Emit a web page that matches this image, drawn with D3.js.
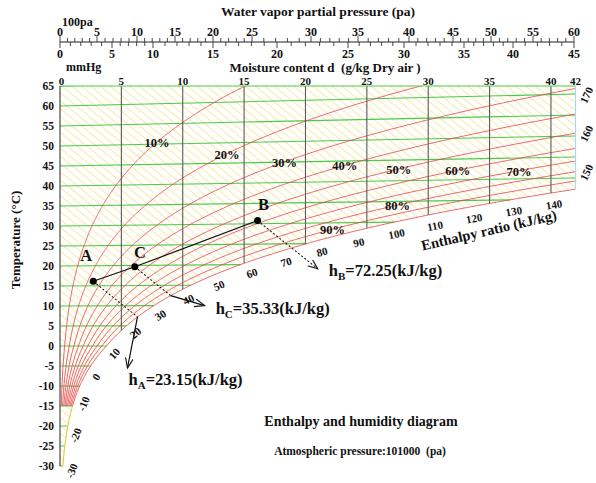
<!DOCTYPE html>
<html><head><meta charset="utf-8">
<script src="https://cdn.jsdelivr.net/npm/d3@7"></script>
<style>
body{margin:0;background:#fff;}
svg text{font-family:"Liberation Serif","Times New Roman",serif;font-weight:bold;fill:#111;}
</style></head><body>
<svg id="chart" width="596" height="483"></svg>
<script>
// ---------- chart values ----------
const tempTicks = d3.range(-30, 66, 5);                 // dry-bulb temperature, °C
const moistureTicks = [0, 5, 10, 15, 20, 25, 30, 35, 40, 42]; // g/kg dry air
const rhLevels = [10, 20, 30, 40, 50, 60, 70, 80, 90, 100]; // relative humidity, %
const rhLabelLevels = [10, 20, 30, 40, 50, 60, 70, 80, 90];
const enthalpyLabels = d3.range(-30, 141, 10);           // kJ/kg, along saturation
const enthalpyEdgeLabels = [150, 160, 170];               // kJ/kg, along right edge
const paTicks = d3.range(0, 61, 5);                       // ×100 Pa
const mmHgTicks = d3.range(0, 46, 5);                     // mmHg
const pointNames = ["A", "C", "B"];
const pointD = [2.71, 6.1, 16.1];                         // g/kg
const pointH = [23.15, 35.33, 72.25];                     // kJ/kg
const pressure = 101000;                                   // Pa

// ---------- psychrometric relations ----------
function psat(t) { // Pa
  return t >= 0 ? 610.94 * Math.exp(17.625 * t / (t + 243.04))
                : 611.15 * Math.exp(22.452 * t / (272.55 + t));
}
function dOf(t, phi) { const pv = phi * psat(t); return 622 * pv / (pressure - pv); }
function hOf(t, d) { return 1.01 * t + d * (2501 + 1.84 * t) / 1000; }
function tOf(h, d) { return (h - 2.501 * d) / (1.01 + 0.00184 * d); }
function solve(f, target, lo, hi) {
  for (let i = 0; i < 80; i++) { const m = (lo + hi) / 2; if (f(m) < target) lo = m; else hi = m; }
  return (lo + hi) / 2;
}
const satTforD = d => solve(t => dOf(t, 1), d, -45, 100);
const satTforH = h => solve(t => hOf(t, dOf(t, 1)), h, -45, 100);
const tForRH = (phi, d) => solve(t => dOf(t, phi), d, -45, 110);

// ---------- scales ----------
const x = d3.scaleLinear().domain([0, 42]).range([60, 575.5]);
const y = d3.scaleLinear().domain([-30, 65]).range([466, 86]);
const TILT = 0.00119; // oblique lift of isotherms with moisture content
const Y = (t, d) => y(t + TILT * t * d);
const paScale = d3.scaleLinear().domain(paTicks)
  .range([60, 97, 137, 175, 213, 252, 311, 358, 409, 453, 491, 533, 574]);
const mmHgScale = d3.scaleLinear().domain(mmHgTicks)
  .range([60, 112, 153, 213, 277, 348, 404, 464, 513, 574]);

const svg = d3.select("#chart");
const defs = svg.append("defs");
defs.append("clipPath").attr("id", "plot").append("rect")
  .attr("x", x(0)).attr("y", y(65)).attr("width", x(42) - x(0)).attr("height", 400);
defs.append("marker").attr("id", "arrow").attr("markerUnits", "userSpaceOnUse")
  .attr("markerWidth", 12).attr("markerHeight", 10).attr("refX", 10).attr("refY", 4)
  .attr("orient", "auto")
  .append("path").attr("d", "M0,0 L10,4 L0,8").attr("fill", "none")
  .attr("stroke", "#111").attr("stroke-width", 1.1);

const line = d3.line();
const plot = svg.append("g").attr("clip-path", "url(#plot)");

// enthalpy hatching every 2 kJ/kg
d3.range(-30, 184, 2).forEach(h => {
  const ts = satTforH(h), dEnd = Math.min(dOf(ts, 1), 42);
  const pts = d3.range(0, 21).map(i => { const d = dEnd * i / 20; return [x(d), Y(tOf(h, d), d)]; });
  plot.append("path").attr("d", line(pts)).attr("fill", "none")
    .attr("stroke", "#f3e48c").attr("stroke-width", 1.2).attr("stroke-opacity", 0.65);
});

// isotherms
tempTicks.forEach(t => {
  const dEnd = Math.min(dOf(t, 1), 42);
  plot.append("path").attr("d", line([[x(0), Y(t, 0)], [x(dEnd), Y(t, dEnd)]]))
    .attr("fill", "none").attr("stroke", "#4cc94c").attr("stroke-width", 1.1);
});

// relative humidity curves
rhLevels.forEach(rh => {
  const phi = rh / 100;
  const pts = [];
  for (let t = -15; t <= 72; t += 0.25) {
    const d = dOf(t, phi);
    if (d > 46) break;
    pts.push([x(d), Y(t, d)]);
  }
  plot.append("path").attr("d", line(pts)).attr("fill", "none")
    .attr("stroke", "#e4454f").attr("stroke-width", 1).attr("stroke-opacity", 0.8);
});
// saturation below -15 °C
{
  const pts = d3.range(-30, -14.9, 0.25).map(t => { const d = dOf(t, 1); return [x(d), Y(t, d)]; });
  svg.append("path").attr("d", line(pts)).attr("fill", "none")
    .attr("stroke", "#e2cf5a").attr("stroke-width", 1.2);
}

// moisture content grid lines
moistureTicks.filter(d => d > 0 && d < 42).forEach(d => {
  svg.append("line").attr("x1", x(d)).attr("x2", x(d)).attr("y1", y(65)).attr("y2", Y(satTforD(d), d))
    .attr("stroke", "#5a5a5a").attr("stroke-width", 1.1);
});

// frame
svg.append("line").attr("x1", x(0)).attr("x2", x(42)).attr("y1", y(65)).attr("y2", y(65))
  .attr("stroke", "#4cc94c").attr("stroke-width", 1.2);
svg.append("line").attr("x1", x(42)).attr("x2", x(42)).attr("y1", y(65)).attr("y2", Y(satTforD(42), 42))
  .attr("stroke", "#a9d9ee").attr("stroke-width", 1.2);
svg.append("line").attr("x1", x(0)).attr("x2", x(0)).attr("y1", y(65)).attr("y2", y(-30))
  .attr("stroke", "#555").attr("stroke-width", 1.3);

// temperature axis labels
tempTicks.forEach(t => {
  svg.append("text").attr("x", 54).attr("y", y(t)).attr("dy", "0.35em")
    .attr("text-anchor", "end").attr("font-size", 11.5).text(t);
});
svg.append("text").attr("transform", "translate(20,240) rotate(-90)")
  .attr("text-anchor", "middle").attr("font-size", 13).text("Temperature (°C)");

// moisture content labels
moistureTicks.forEach(d => {
  svg.append("text").attr("x", x(d) + (d === 0 ? 1.5 : 0)).attr("y", 85)
    .attr("text-anchor", "middle").attr("font-size", 11).text(d);
});
svg.append("text").attr("x", 325).attr("y", 72).attr("text-anchor", "middle")
  .attr("font-size", 13).style("white-space", "pre").text("Moisture content d  (g/kg Dry air )");

// vapour pressure ruler
const rulerY = 42;
svg.append("line").attr("x1", 60).attr("x2", 574).attr("y1", rulerY).attr("y2", rulerY)
  .attr("stroke", "#222").attr("stroke-width", 1);
d3.range(0, 60.01, 1).forEach(v => {
  const major = v % 5 === 0;
  svg.append("line").attr("x1", paScale(v)).attr("x2", paScale(v))
    .attr("y1", rulerY - (major ? 6 : 4)).attr("y2", rulerY).attr("stroke", "#333").attr("stroke-width", 0.9);
});
d3.range(0, 45.01, 1).forEach(v => {
  const major = v % 5 === 0;
  svg.append("line").attr("x1", mmHgScale(v)).attr("x2", mmHgScale(v))
    .attr("y1", rulerY).attr("y2", rulerY + (major ? 6 : 4)).attr("stroke", "#333").attr("stroke-width", 0.9);
});
paTicks.forEach(v => {
  svg.append("text").attr("x", paScale(v)).attr("y", 36).attr("text-anchor", "middle")
    .attr("font-size", 12).text(v);
});
mmHgTicks.forEach(v => {
  svg.append("text").attr("x", mmHgScale(v)).attr("y", 58).attr("text-anchor", "middle")
    .attr("font-size", 12).text(v);
});
svg.append("text").attr("x", 62).attr("y", 26).attr("font-size", 12).text("100pa");
svg.append("text").attr("x", 66).attr("y", 71).attr("font-size", 12).text("mmHg");
svg.append("text").attr("x", 318).attr("y", 16).attr("text-anchor", "middle")
  .attr("font-size", 13.5).text("Water vapor partial pressure (pa)");

// enthalpy labels along the saturation curve
enthalpyLabels.forEach(h => {
  const ts = satTforH(h);
  const p = t => { const d = dOf(t, 1); return [x(d), Y(t, d)]; };
  const a = p(ts - 0.2), b = p(ts + 0.2), c = p(ts);
  let ux = b[0] - a[0], uy = b[1] - a[1];
  const len = Math.hypot(ux, uy); ux /= len; uy /= len;
  const ang = Math.max(Math.atan2(uy, ux) * 180 / Math.PI, -68);
  const cx = c[0] - uy * 9, cy = c[1] + ux * 9 + 3;
  svg.append("text").attr("transform", `translate(${cx},${cy}) rotate(${ang})`)
    .attr("text-anchor", "middle").attr("dy", "0.35em").attr("font-size", 11).text(h);
});
enthalpyEdgeLabels.forEach(h => {
  const t = tOf(h, 42);
  svg.append("text").attr("transform", `translate(${x(42) + 11},${Y(t, 42)}) rotate(-65)`)
    .attr("text-anchor", "middle").attr("dy", "0.35em").attr("font-size", 11).text(h);
});
svg.append("text").attr("transform", "translate(490,235) rotate(-13)")
  .attr("text-anchor", "middle").attr("font-size", 14.5).text("Enthalpy ratio (kJ/kg)");

// relative humidity labels, centred on their curves
const rhLabelAt = [7.9, 13.6, 18.3, 23.2, 27.6, 32.4, 37.4, 27.5, 22.2];
rhLabelLevels.forEach((rh, i) => {
  const d = rhLabelAt[i], t = tForRH(rh / 100, d);
  svg.append("text").attr("x", x(d)).attr("y", Y(t, d)).attr("dy", "0.4em")
    .attr("text-anchor", "middle").attr("font-size", 12.5).text(rh + "%");
});

// state points and process line
const pts = pointNames.map((n, i) => {
  const d = pointD[i], h = pointH[i], t = tOf(h, d);
  return { n, d, h, t, px: x(d), py: Y(t, d) };
});
svg.append("path").attr("d", line(pts.map(p => [p.px, p.py]))).attr("fill", "none")
  .attr("stroke", "#111").attr("stroke-width", 1.2);

const labelOffset = { A: [-7, -26], C: [5, -15], B: [6, -16] };
const arrowLeg = { A: [-10, 51], C: [34, 10], B: null };
const textOffset = { A: [1, 17], C: [11, 8], B: [11, 7] };
pts.forEach(p => {
  const ts = satTforH(p.h), ds = dOf(ts, 1);
  const dEnd = p.n === "B" ? 21.0 : ds;
  const seg = d3.range(0, 11).map(i => { const d = p.d + (dEnd - p.d) * i / 10; return [x(d), Y(tOf(p.h, d), d)]; });
  const dotted = svg.append("path").attr("d", line(seg)).attr("fill", "none")
    .attr("stroke", "#111").attr("stroke-width", 1.1).attr("stroke-dasharray", "2,2");
  let tip = seg[seg.length - 1];
  if (arrowLeg[p.n]) {
    const s = seg[seg.length - 1];
    tip = [s[0] + arrowLeg[p.n][0], s[1] + arrowLeg[p.n][1]];
    svg.append("line").attr("x1", s[0]).attr("y1", s[1]).attr("x2", tip[0]).attr("y2", tip[1])
      .attr("stroke", "#111").attr("stroke-width", 1.2).attr("marker-end", "url(#arrow)");
  } else {
    dotted.attr("marker-end", "url(#arrow)");
  }
  const lbl = svg.append("text").attr("x", tip[0] + textOffset[p.n][0]).attr("y", tip[1] + textOffset[p.n][1])
    .attr("font-size", 16.5);
  lbl.append("tspan").text("h");
  lbl.append("tspan").attr("font-size", 11).attr("dy", 4).text(p.n);
  lbl.append("tspan").attr("dy", -4).text("=" + p.h.toFixed(2) + "(kJ/kg)");

  svg.append("circle").attr("cx", p.px).attr("cy", p.py).attr("r", 3.5).attr("fill", "#000");
  svg.append("text").attr("x", p.px + labelOffset[p.n][0]).attr("y", p.py + labelOffset[p.n][1])
    .attr("dy", "0.35em").attr("text-anchor", "middle").attr("font-size", 16.5).text(p.n);
});

// titles
svg.append("text").attr("x", 361).attr("y", 426).attr("text-anchor", "middle")
  .attr("font-size", 14).text("Enthalpy and humidity diagram");
svg.append("text").attr("x", 360).attr("y", 455).attr("text-anchor", "middle")
  .attr("font-size", 11.5).style("white-space", "pre").text("Atmospheric pressure:101000  (pa)");
</script>
</body></html>
